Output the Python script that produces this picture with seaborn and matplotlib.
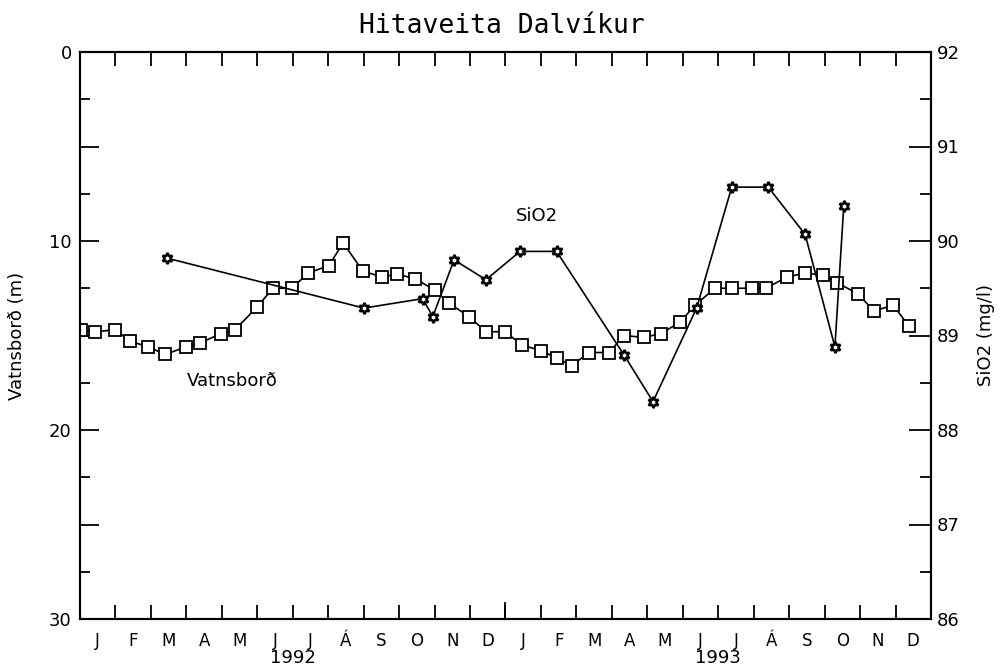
import numpy as np
import pandas as pd
import matplotlib
matplotlib.use("Agg")
import matplotlib.pyplot as plt
import matplotlib.transforms as mtrans
import seaborn as sns

# months counted from 1 Jan 1992 (0 = start of Jan 1992, 24 = end of Dec 1993)
level_t = [0.02, 0.42, 1.0, 1.41, 1.92, 2.4, 3.0, 3.38, 3.98, 4.37, 4.99, 5.44,
           5.98, 6.43, 7.02, 7.42, 7.98, 8.52, 8.94, 9.45, 10.01, 10.41, 10.97, 11.45,
           11.99, 12.46, 13.0, 13.45, 13.87, 14.35, 14.92, 15.34, 15.9, 16.38, 16.92, 17.34,
           17.91, 18.39, 18.95, 19.35, 19.94, 20.45, 20.95, 21.35, 21.94, 22.39, 22.93, 23.38]
level_m = [14.7, 14.8, 14.7, 15.3, 15.6, 16.0, 15.6, 15.4, 14.9, 14.7, 13.5, 12.5,
           12.5, 11.7, 11.3, 10.1, 11.6, 11.9, 11.75, 12.0, 12.6, 13.3, 14.0, 14.8,
           14.8, 15.5, 15.8, 16.2, 16.6, 15.9, 15.9, 15.0, 15.1, 14.9, 14.3, 13.4,
           12.5, 12.5, 12.5, 12.5, 11.9, 11.7, 11.8, 12.2, 12.8, 13.7, 13.4, 14.5]

sio2_t = [2.44, 8.01, 9.66, 9.95, 10.55, 11.45, 12.41, 13.44, 15.35, 16.16,
          17.39, 18.38, 19.41, 20.45, 21.29, 21.54]
sio2_v = [89.82, 89.29, 89.39, 89.20, 89.80, 89.59, 89.89, 89.89, 88.79, 88.30,
          89.29, 90.57, 90.57, 90.07, 88.88, 90.37]

month_letters = ["J", "F", "M", "A", "M", "J", "J", "Á", "S", "O", "N", "D"]
years = ["1992", "1993"]

df_level = pd.DataFrame({"t": level_t, "m": level_m})
df_sio2 = pd.DataFrame({"t": sio2_t, "v": sio2_v})

plt.rcParams["font.family"] = ["DejaVu Sans"]

fig = plt.figure(figsize=(10.04, 6.7), dpi=100)
ax = fig.add_axes([80 / 1004, 1 - 619 / 670, 851 / 1004, 567 / 670])
ax2 = ax.twinx()

sns.lineplot(data=df_level, x="t", y="m", ax=ax, sort=False, color="black",
             linewidth=1.2, marker="s", markersize=8, markerfacecolor="white",
             markeredgecolor="black", markeredgewidth=1.3)
sns.lineplot(data=df_sio2, x="t", y="v", ax=ax2, sort=False, color="black",
             linewidth=1.2, marker=(6, 1, 0), markersize=8, markerfacecolor="white",
             markeredgecolor="black", markeredgewidth=1.8)

ax.set_xlim(0, 24)
ax.set_ylim(30, 0)
ax2.set_ylim(86, 92)

for a in (ax, ax2):
    for s in a.spines.values():
        s.set_linewidth(1.5)

# left axis
ax.set_yticks(np.arange(0, 31, 5))
ax.set_yticklabels([str(int(v)) if v % 10 == 0 else "" for v in np.arange(0, 31, 5)])
ax.set_yticks(np.arange(2.5, 30, 5), minor=True)
ax.tick_params(axis="y", which="major", direction="in", length=14, width=1.3,
               labelsize=13, pad=6)
ax.tick_params(axis="y", which="minor", direction="in", length=7, width=1.3)
ax.set_ylabel("Vatnsborð (m)", fontsize=13)
ax.yaxis.set_label_coords(-54 / 851, 0.5)

# right axis
ax2.set_yticks(np.arange(86, 93, 1))
ax2.set_yticks(np.arange(86.5, 92, 1), minor=True)
ax2.tick_params(axis="y", which="major", direction="in", length=16, width=1.3,
                labelsize=13, pad=4)
ax2.tick_params(axis="y", which="minor", direction="in", length=8, width=1.3)
ax2.set_ylabel("SiO2 (mg/l)", fontsize=13)
ax2.yaxis.set_label_coords(1 + 46 / 851, 0.5)

# x axis: month boundaries as ticks, letters centred in months
ax.set_xticks(np.arange(1, 24))
ax.set_xticklabels([])
ax.set_xticks(np.arange(0.5, 24, 1), minor=True)
ax.set_xticklabels(month_letters * 2, minor=True)
ax.tick_params(axis="x", which="major", direction="in", length=10, width=1.3,
               top=True, bottom=True)
ax.tick_params(axis="x", which="minor", length=0, labelsize=12, pad=9)
ax.set_xlabel("")
ax2.set_xlabel("")

# longer tick at the year change
trans = mtrans.blended_transform_factory(ax.transData, ax.transAxes)
ax.plot([12, 12], [0, 16 / 567], color="black", linewidth=1.3, transform=trans,
        clip_on=False)

for i, yr in enumerate(years):
    ax.text(6 + 12 * i, -39 / 567, yr, transform=trans, ha="center", va="center",
            fontsize=13)

ax.text(3.0, 17.4, "Vatnsborð", ha="left", va="center", fontsize=13)
ax.text(12.89, 8.7, "SiO2", ha="center", va="center", fontsize=13)

fig.text(502 / 1004, 1 - 26 / 670, "Hitaveita Dalvíkur", ha="center", va="center",
         fontsize=19, family=["DejaVu Sans Mono"])

fig.savefig("out.png", dpi=100)
